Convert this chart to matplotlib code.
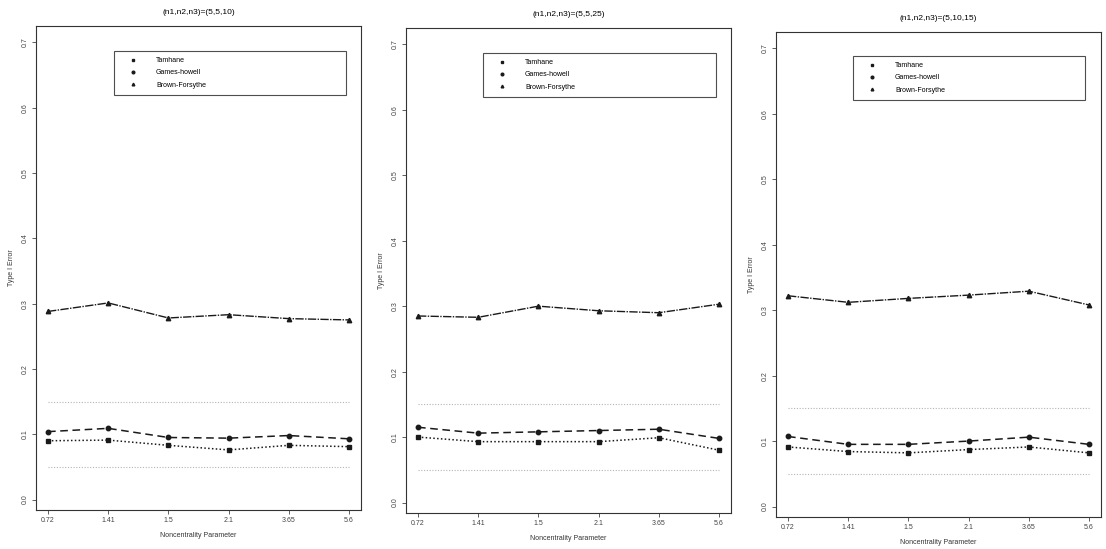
import numpy as np
import matplotlib.pyplot as plt

# noncentrality parameter values (categorical x axis)
ncp_labels = ["0.72", "1.41", "1.5", "2.1", "3.65", "5.6"]
titles = ["(n1,n2,n3)=(5,5,10)", "(n1,n2,n3)=(5,5,25)", "(n1,n2,n3)=(5,10,15)"]

# Type I error
tamhane = [
    [0.090, 0.091, 0.083, 0.076, 0.083, 0.081],
    [0.100, 0.093, 0.093, 0.093, 0.099, 0.080],
    [0.091, 0.084, 0.082, 0.087, 0.091, 0.082],
]
games_howell = [
    [0.104, 0.109, 0.095, 0.094, 0.098, 0.093],
    [0.115, 0.106, 0.108, 0.110, 0.112, 0.098],
    [0.107, 0.095, 0.095, 0.100, 0.106, 0.095],
]
brown_forsythe = [
    [0.288, 0.301, 0.278, 0.283, 0.277, 0.275],
    [0.285, 0.283, 0.300, 0.293, 0.290, 0.303],
    [0.322, 0.312, 0.318, 0.323, 0.329, 0.308],
]
ref_levels = [0.05, 0.15]
yticks = [0.0, 0.1, 0.2, 0.3, 0.4, 0.5, 0.6, 0.7]

plt.rcParams["font.family"] = "Liberation Sans"

fig = plt.figure(figsize=(11.06, 5.49), dpi=100)
W, H = 1106, 549
# pixel boxes of the three panels (left, right, top, bottom)
boxes = [(36, 361, 26, 510), (406, 731, 28, 513), (776, 1101, 32, 517)]
leg_boxes = [(114, 346, 51), (483, 716, 53), (853, 1085, 56)]

ink = "#1a1a1a"
x = np.arange(1, len(ncp_labels) + 1)

for i, (l, r, t, b) in enumerate(boxes):
    ax = fig.add_axes([l / W, 1 - b / H, (r - l) / W, (b - t) / H])
    ax.hlines(ref_levels, 1, 6, colors="#b5b5b5", linestyles=(0, (1, 1.5)), lw=0.8)
    h1, = ax.plot(x, tamhane[i], color=ink, ls=(0, (1, 1.5)), lw=1.1,
                  marker="s", ms=3.2, label="Tamhane")
    h2, = ax.plot(x, games_howell[i], color=ink, ls=(0, (5, 3)), lw=1.1,
                  marker="o", ms=3.2, label="Games-howell")
    h3, = ax.plot(x, brown_forsythe[i], color=ink, ls=(0, (6, 1, 1, 1)), lw=1.0,
                  marker="^", ms=3.2, label="Brown-Forsythe")
    ax.set_xlim(0.8, 6.2)
    ax.set_ylim(-0.016, 0.725)
    ax.set_xticks(x)
    ax.set_xticklabels(ncp_labels)
    ax.set_yticks(yticks)
    ax.set_yticklabels([f"{v:.1f}" for v in yticks], rotation=90, va="center")
    ax.tick_params(labelsize=5, length=3, width=0.6, colors="#444444", pad=2)
    for s in ax.spines.values():
        s.set_linewidth(0.8)
        s.set_color("#333333")
    ax.set_title(titles[i], fontsize=6, pad=9)
    ax.set_xlabel("Noncentrality Parameter", fontsize=5, labelpad=6, color="#333333")
    ax.set_ylabel("Type I Error", fontsize=5, labelpad=5, color="#333333")

    lx0, lx1, ly = leg_boxes[i]
    x0 = (lx0 - l) / (r - l)
    wl = (lx1 - lx0) / (r - l)
    y1 = (b - ly) / (b - t)
    leg = ax.legend([h1, h2, h3], ["Tamhane", "Games-howell", "Brown-Forsythe"],
                    loc="upper left", bbox_to_anchor=(x0, y1 - 0.1, wl, 0.1),
                    mode="expand", borderaxespad=0, fontsize=5, frameon=True,
                    fancybox=False, handlelength=3.7, handletextpad=1.45,
                    borderpad=0.9, labelspacing=0.75, markerscale=0.6)
    for lh in leg.legend_handles:
        lh.set_linestyle("none")
    leg.get_frame().set_edgecolor("#222222")
    leg.get_frame().set_linewidth(0.8)

fig.savefig("out.png", dpi=100)
